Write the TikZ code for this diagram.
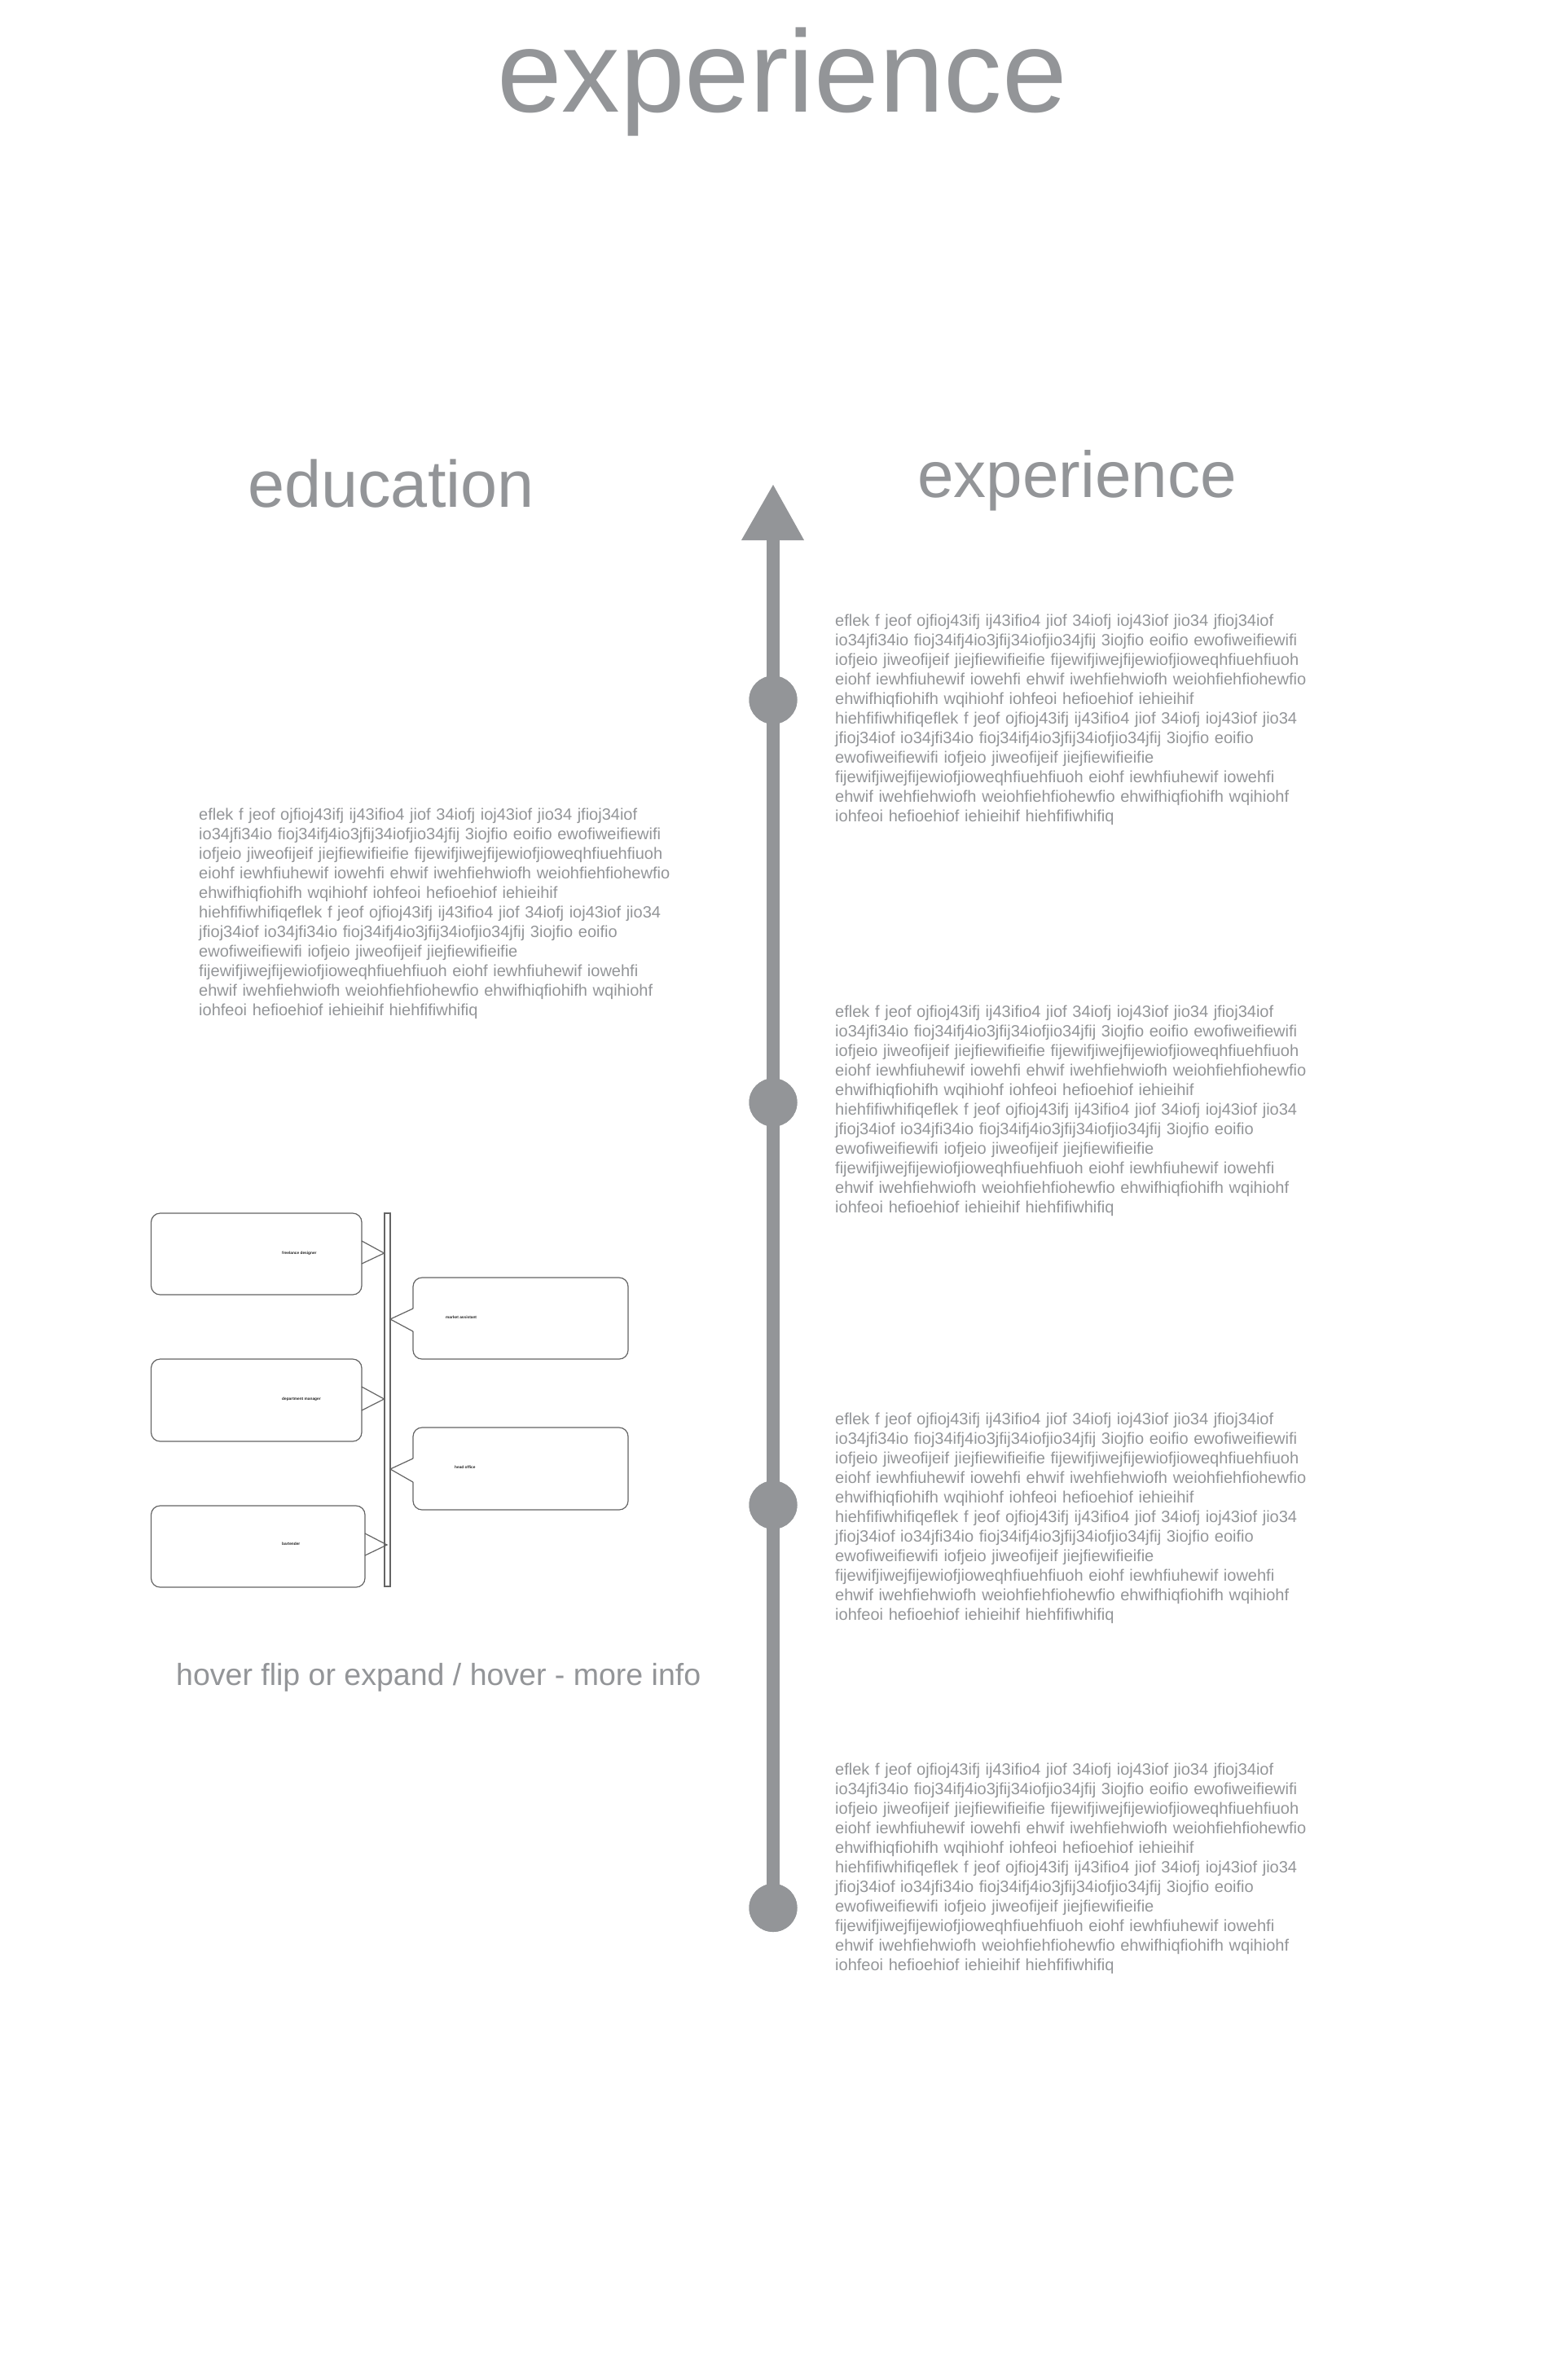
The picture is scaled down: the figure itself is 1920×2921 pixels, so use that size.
\documentclass[tikz,border=0pt]{standalone}
\usepackage{fontspec}
\setmainfont{Liberation Sans}
\definecolor{tlgray}{RGB}{147,149,152}
\definecolor{boxline}{RGB}{100,100,100}
\definecolor{labelink}{RGB}{35,35,35}
\newcommand{\fillertext}{eflek f jeof ojfioj43ifj ij43ifio4 jiof 34iofj ioj43iof jio34 jfioj34iof\\
io34jfi34io fioj34ifj4io3jfij34iofjio34jfij 3iojfio eoifio ewofiweifiewifi\\
iofjeio jiweofijeif jiejfiewifieifie fijewifjiwejfijewiofjioweqhfiuehfiuoh\\
eiohf iewhfiuhewif iowehfi ehwif iwehfiehwiofh weiohfiehfiohewfio\\
ehwifhiqfiohifh wqihiohf iohfeoi hefioehiof iehieihif\\
hiehfifiwhifiqeflek f jeof ojfioj43ifj ij43ifio4 jiof 34iofj ioj43iof jio34\\
jfioj34iof io34jfi34io fioj34ifj4io3jfij34iofjio34jfij 3iojfio eoifio\\
ewofiweifiewifi iofjeio jiweofijeif jiejfiewifieifie\\
fijewifjiwejfijewiofjioweqhfiuehfiuoh eiohf iewhfiuhewif iowehfi\\
ehwif iwehfiehwiofh weiohfiehfiohewfio ehwifhiqfiohifh wqihiohf\\
iohfeoi hefioehiof iehieihif hiehfifiwhifiq}
\begin{document}
\begin{tikzpicture}[x=1pt,y=-1pt,
  heading/.style={text=tlgray, inner sep=0pt, anchor=base},
  bodyblock/.style={text=tlgray, inner sep=0pt, anchor=base west, text width=720pt, align=left, font=\fontsize{20}{24}\selectfont},
  tldot/.style={circle, fill=tlgray, draw=none, minimum size=59pt, inner sep=0pt},
  jobbox/.style={draw=boxline, line width=1.2pt, rounded corners=11pt},
  jobpointer/.style={draw=boxline, line width=1.2pt},
  joblabel/.style={text=labelink, inner sep=0pt, anchor=west, font=\bfseries\fontsize{4.8}{5}\selectfont}
]
\useasboundingbox (0,0) rectangle (1920,2921);
\fill[white] (0,0) rectangle (1920,2921);

% titles
\node[heading, font=\fontsize{143}{170}\selectfont] (title) at (960,137) {experience};
\node[heading, font=\fontsize{81}{96}\selectfont] (edu) at (480,622) {education};
\node[heading, font=\fontsize{80}{96}\selectfont] (exp) at (1322,610) {experience};

% timeline
\node[tldot] (c1) at (949,859) {};
\node[tldot] (c2) at (949,1353) {};
\node[tldot] (c3) at (949,1847) {};
\node[tldot] (c4) at (949,2341.5) {};
\coordinate (head) at (949,663);
\coordinate (tip) at (949,595);
\draw[tlgray, line width=15.5pt] (c4.center) -- (head);
\fill[tlgray] (tip) -- (987,663) -- (910,663) -- cycle;
\foreach \c in {c1,c2,c3,c4} \fill[tlgray] (\c) circle (29.5);

% text blocks
\node[bodyblock] (t0) at (244,1006) {\fillertext};
\node[bodyblock] (t1) at (1025,768) {\fillertext};
\node[bodyblock] (t2) at (1025,1248) {\fillertext};
\node[bodyblock] (t3) at (1025,1748) {\fillertext};
\node[bodyblock] (t4) at (1025,2178) {\fillertext};

% small job diagram
\draw[jobpointer] (472,1489) rectangle (479,1947);

\draw[jobbox] (185.5,1489) rectangle (444,1589);
\draw[jobpointer] (444,1523) -- (471.5,1538) -- (444,1551);
\node[joblabel] (fd) at (346,1538) {freelance designer};

\draw[jobbox] (185.5,1668) rectangle (444,1769);
\draw[jobpointer] (444,1702) -- (471.5,1717) -- (444,1731);
\node[joblabel] (dm) at (346,1717) {department manager};

\draw[jobbox] (185.5,1848) rectangle (448,1948);
\draw[jobpointer] (448,1882) -- (475,1896) -- (448,1909);
\node[joblabel] (bt) at (346,1895) {bartender};

\draw[jobbox] (507,1606) -- (507,1568) -- (771,1568) -- (771,1668) -- (507,1668) -- (507,1634);
\draw[jobpointer] (507,1606) -- (479,1619) -- (507,1634);
\node[joblabel] (ma) at (547,1617) {market assistant};

\draw[jobbox] (507,1790) -- (507,1752) -- (771,1752) -- (771,1853) -- (507,1853) -- (507,1819);
\draw[jobpointer] (507,1790) -- (479,1803) -- (507,1819);
\node[joblabel] (ho) at (558,1801) {head office};

\node[text=tlgray, inner sep=0pt, anchor=base west, font=\fontsize{37.5}{44}\selectfont] (hover) at (216,2068) {hover flip or expand / hover - more info};
\end{tikzpicture}
\end{document}
